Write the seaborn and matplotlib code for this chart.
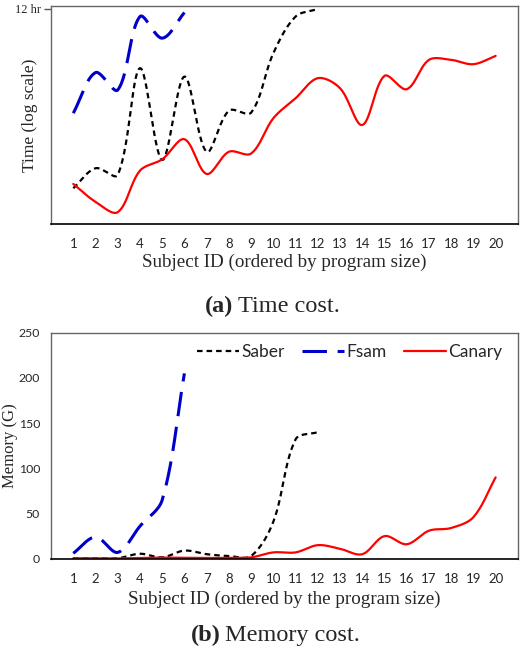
import numpy as np
import pandas as pd
import matplotlib
matplotlib.use('Agg')
import matplotlib.pyplot as plt
import seaborn as sns

# Subject IDs
subjects = list(range(1, 21))

# (a) time cost in seconds (log scale)
time_saber = [5.9, 15.9, 11.4, 2275, 24, 1500, 36, 277, 251, 4790, 29450, 42550]
time_fsam = [244, 1829, 774, 29450, 10090, 35950]
time_canary = [7.3, 3.0, 1.8, 14.1, 24.8, 67, 12, 36, 33, 190, 513, 1384,
               843, 136, 1552, 802, 3435, 3435, 2773, 4188]

# (b) memory cost in G
mem_saber = [0.5, 0.5, 0.5, 5.5, 1.5, 9, 5, 3, 3, 41, 132, 140]
mem_fsam = [6, 24, 7, 36, 65, 205]
mem_canary = [0.5, 0.5, 0.3, 0.8, 1.2, 1, 0.8, 1, 1.5, 7, 7, 15,
              11, 5, 25, 16, 31, 34, 46, 90]


def smooth(xv, yv, sx, sy, n=30):
    # excel-like smoothed line: bezier through the points,
    # control arms weighted by the segment lengths on screen (sx, sy = px per unit)
    p = np.column_stack([xv, yv]).astype(float)
    m = len(p)
    scale = np.array([sx, sy])

    def dist(a, b):
        return np.hypot(*((a - b) * scale))

    xs, ys = [], []
    for i in range(m - 1):
        p1, p2 = p[i], p[i + 1]
        d12 = dist(p1, p2)
        if i > 0:
            d01 = dist(p[i - 1], p1)
            c1 = p1 + (p2 - p[i - 1]) * d12 / (3 * (d01 + d12))
        else:
            c1 = p1 + (p2 - p1) / 3
        if i + 2 < m:
            d23 = dist(p2, p[i + 2])
            c2 = p2 - (p[i + 2] - p1) * d12 / (3 * (d12 + d23))
        else:
            c2 = p2 - (p2 - p1) / 3
        t = np.linspace(0, 1, n)[:, None]
        b = ((1 - t) ** 3) * p1 + 3 * ((1 - t) ** 2) * t * c1 + 3 * (1 - t) * t ** 2 * c2 + t ** 3 * p2
        xs.extend(b[:, 0])
        ys.extend(b[:, 1])
    return pd.DataFrame({'x': xs, 'y': ys})


sns.set_style('white')
plt.rcParams['font.family'] = ['Liberation Serif', 'DejaVu Serif']

styles = {
    'Saber': dict(color='black', lw=1.6, linestyle=(0, (2.5, 1.8))),
    'Fsam': dict(color='#0000c8', lw=2.2, linestyle=(0, (8, 3.5))),
    'Canary': dict(color='#ff0000', lw=1.6, linestyle='-'),
}

fig = plt.figure(figsize=(5.21, 6.55), dpi=100)
ax1 = fig.add_axes([0.098, 0.658, 0.896, 0.333])
ax2 = fig.add_axes([0.098, 0.147, 0.896, 0.345])

px_x = 22.28  # px per subject

# Time cost (log scale, smoothed in log space)
for name, vals in [('Saber', time_saber), ('Fsam', time_fsam), ('Canary', time_canary)]:
    d = smooth(subjects[:len(vals)], np.log10(vals), px_x, 46.4)
    d['y'] = 10 ** d['y']
    sns.lineplot(data=d, x='x', y='y', sort=False, estimator=None, ax=ax1, **styles[name])
ax1.set_yscale('log')
ax1.set_ylim(1, 50000)
ax1.set_yticks([43200])
ax1.set_yticklabels(['12 hr'], fontsize=9)
ax1.yaxis.set_minor_locator(matplotlib.ticker.NullLocator())
ax1.tick_params(axis='y', length=5, width=1, color='#555555', pad=2, left=True)
ax1.set_ylabel('Time (log scale)', fontsize=12.5, va='center')
ax1.yaxis.set_label_coords(-0.045, 0.5)

# Memory cost
for name, vals in [('Saber', mem_saber), ('Fsam', mem_fsam), ('Canary', mem_canary)]:
    d = smooth(subjects[:len(vals)], vals, px_x, 0.9027)
    sns.lineplot(data=d, x='x', y='y', sort=False, estimator=None, ax=ax2, label=name, **styles[name])
ax2.set_ylim(0, 250)
ax2.set_yticks([0, 50, 100, 150, 200, 250])
ax2.set_ylabel('Memory (G)', fontsize=12, va='center')
ax2.yaxis.set_label_coords(-0.088, 0.5)
ax2.tick_params(axis='y', length=0, pad=8)
for lab in ax2.get_yticklabels():
    lab.set_family('Lato')
    lab.set_fontsize(8.8)
ax2.legend(loc='upper right', ncol=3, frameon=False, handlelength=2.4,
           handletextpad=0.15, columnspacing=1.0, prop={'family': 'Lato', 'size': 12.5},
           bbox_to_anchor=(1.0, 1.02))

for ax, xl, lp in [(ax1, 'Subject ID (ordered by program size)', 2.5),
                   (ax2, 'Subject ID (ordered by the program size)', 4.5)]:
    ax.set_xlim(0, 21)
    ax.set_xticks(subjects)
    ax.set_xticklabels([str(s) for s in subjects], family='Lato', fontsize=9.5)
    ax.tick_params(axis='x', length=0, pad=10)
    ax.set_xlabel(xl, fontsize=13.7, labelpad=lp)
    for s in ['top', 'left', 'right']:
        ax.spines[s].set_color('#666666')
        ax.spines[s].set_linewidth(1.0)
    ax.spines['bottom'].set_color('black')
    ax.spines['bottom'].set_linewidth(1.2)

# captions
fig.text(233 / 521, 1 - 306 / 655, '(a)', fontsize=17.5, fontweight='bold', ha='right', va='center')
fig.text(238 / 521, 1 - 306 / 655, 'Time cost.', fontsize=17.5, ha='left', va='center')
fig.text(221 / 521, 1 - 635 / 655, '(b)', fontsize=17.5, fontweight='bold', ha='right', va='center')
fig.text(225 / 521, 1 - 635 / 655, 'Memory cost.', fontsize=17.5, ha='left', va='center')

fig.savefig('out.png', dpi=100)
